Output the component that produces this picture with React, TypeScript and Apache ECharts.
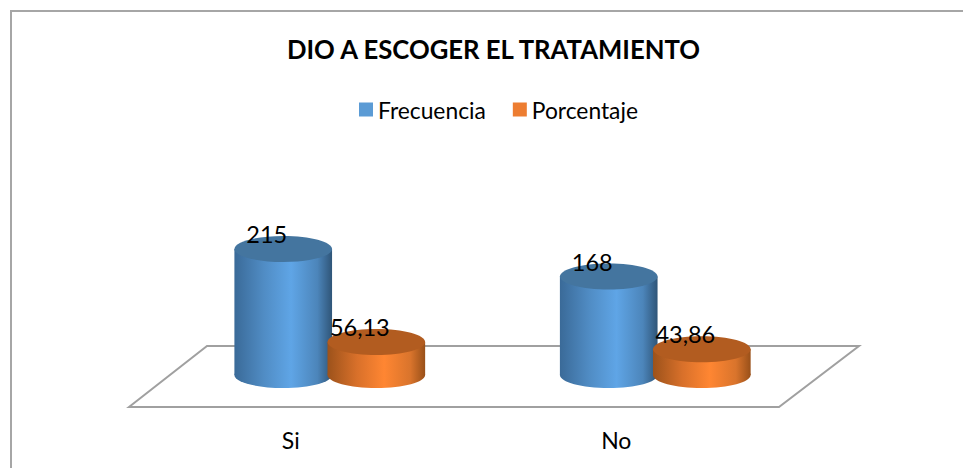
import React, { useEffect, useRef } from "react";
import * as echarts from "echarts";

const categories = ["Si", "No"];
const frecuencia = [215, 168];
const porcentaje = [56.13, 43.86];
const titleText = "DIO A ESCOGER EL TRATAMIENTO";
const FONT = "Lato, Carlito, Calibri, sans-serif";

const fmt = (v: number) => String(v).replace(".", ",");

function cylinder(offset: number, stops: string[], topColor: string) {
  return (params: any, api: any) => {
    const cat = api.value(0);
    const val = api.value(1);
    const base = api.coord([cat, 0]);
    const top = api.coord([cat, val]);
    const band = api.size([1, 0])[0];
    const cx = base[0] + band * offset;
    const rx = band * 0.15;
    const ry = 13;
    const fill = {
      type: "linear",
      x: 0,
      y: 0,
      x2: 1,
      y2: 0,
      colorStops: [
        { offset: 0, color: stops[0] },
        { offset: 0.3, color: stops[1] },
        { offset: 0.58, color: stops[2] },
        { offset: 0.85, color: stops[3] },
        { offset: 1, color: stops[4] },
      ],
    };
    return {
      type: "group",
      children: [
        { type: "ellipse", shape: { cx, cy: base[1], rx, ry }, style: { fill } },
        {
          type: "rect",
          shape: { x: cx - rx, y: top[1], width: rx * 2, height: base[1] - top[1] },
          style: { fill },
        },
        { type: "ellipse", shape: { cx, cy: top[1], rx, ry }, style: { fill: topColor } },
        {
          type: "text",
          x: cx - 16.5,
          y: top[1] - 15,
          style: {
            text: fmt(val),
            fill: "#000000",
            fontSize: 23.5,
            fontFamily: FONT,
            textAlign: "center",
            textVerticalAlign: "middle",
          },
        },
      ],
    };
  };
}

export default function App() {
  const ref = useRef<HTMLDivElement>(null);
  useEffect(() => {
    const chart = echarts.init(ref.current!, undefined, { renderer: "svg" });
    chart.setOption({
      animation: false,
      backgroundColor: "#ffffff",
      title: {
        text: titleText,
        left: 488.5,
        top: 31,
        textAlign: "center",
        textStyle: { fontFamily: FONT, fontSize: 25.7, fontWeight: "bold", color: "#000000" },
      },
      legend: {
        left: 359,
        top: 98,
        padding: 0,
        icon: "rect",
        itemWidth: 14,
        itemHeight: 14,
        itemGap: 27,
        textStyle: { fontFamily: FONT, fontSize: 22.8, color: "#000000" },
        data: ["Frecuencia", "Porcentaje"],
      },
      grid: [
        { left: 168, width: 651, top: 199.2, height: 175.8 },
        { left: 128, width: 651, top: 399, height: 8 },
      ],
      xAxis: [
        {
          type: "category",
          gridIndex: 0,
          data: categories,
          axisLine: { show: false },
          axisTick: { show: false },
          axisLabel: { show: false },
        },
        {
          type: "category",
          gridIndex: 1,
          data: categories,
          axisLine: { show: false },
          axisTick: { show: false },
          axisLabel: { fontFamily: FONT, fontSize: 23, color: "#000000", margin: 21 },
        },
      ],
      yAxis: [
        { type: "value", gridIndex: 0, min: 0, max: 300, show: false },
        { type: "value", gridIndex: 1, min: 0, max: 1, show: false },
      ],
      graphic: [
        {
          type: "polyline",
          z: -1,
          silent: true,
          shape: { points: [[11, 468], [11, 11], [963, 11]] },
          style: { stroke: "#a6a6a6", lineWidth: 2, fill: "none" },
        },
        {
          type: "polygon",
          z: -1,
          silent: true,
          shape: { points: [[129, 407], [207, 346], [859, 346], [779, 407]] },
          style: { stroke: "#a0a0a0", lineWidth: 2, fill: "#ffffff" },
        },
      ],
      series: [
        {
          name: "Frecuencia",
          type: "custom",
          xAxisIndex: 0,
          yAxisIndex: 0,
          z: 3,
          itemStyle: { color: "#5b9bd5" },
          encode: { x: 0, y: 1 },
          data: frecuencia.map((v, i) => [i, v]),
          renderItem: cylinder(-0.146, ["#3a6a98", "#508cc4", "#5fa5e6", "#4c85ba", "#2f5578"], "#44759f"),
        },
        {
          name: "Porcentaje",
          type: "custom",
          xAxisIndex: 0,
          yAxisIndex: 0,
          z: 4,
          itemStyle: { color: "#ed7d31" },
          encode: { x: 0, y: 1 },
          data: porcentaje.map((v, i) => [i, v]),
          renderItem: cylinder(0.14, ["#9c521b", "#d8702a", "#ff8632", "#d9742c", "#995019"], "#b25c20"),
        },
      ],
    });
    return () => chart.dispose();
  }, []);
  return <div ref={ref} style={{ position: "fixed", left: 0, top: 0, width: 963, height: 468 }} />;
}
